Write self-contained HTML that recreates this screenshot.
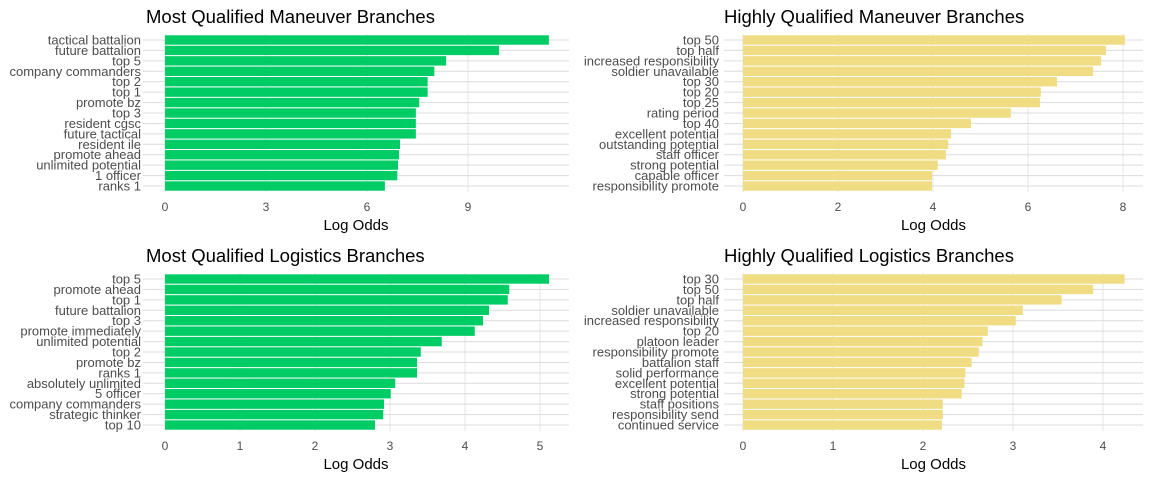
<!DOCTYPE html>
<html><head><meta charset="utf-8"><style>
body{margin:0;background:#fff;font-family:"Liberation Sans",sans-serif}
svg text{font-family:"Liberation Sans",sans-serif}
</style></head><body>
<svg id="c" width="1152" height="480" xmlns="http://www.w3.org/2000/svg"></svg>
<script>
const p1Cats=["tactical battalion","future battalion","top 5","company commanders","top 2","top 1","promote bz","top 3","resident cgsc","future tactical","resident ile","promote ahead","unlimited potential","1 officer","ranks 1"];
const p1Vals=[11.4,9.92,8.35,8.0,7.8,7.8,7.55,7.45,7.45,7.45,6.98,6.95,6.92,6.9,6.53];
const p1Ticks=[0,3,6,9];
const p2Cats=["top 50","top half","increased responsibility","soldier unavailable","top 30","top 20","top 25","rating period","top 40","excellent potential","outstanding potential","staff officer","strong potential","capable officer","responsibility promote"];
const p2Vals=[8.04,7.64,7.54,7.37,6.61,6.27,6.25,5.64,4.8,4.38,4.32,4.27,4.1,3.98,3.98];
const p2Ticks=[0,2,4,6,8];
const p3Cats=["top 5","promote ahead","top 1","future battalion","top 3","promote immediately","unlimited potential","top 2","promote bz","ranks 1","absolutely unlimited","5 officer","company commanders","strategic thinker","top 10"];
const p3Vals=[5.12,4.59,4.57,4.32,4.24,4.13,3.69,3.41,3.36,3.36,3.07,3.01,2.92,2.91,2.8];
const p3Ticks=[0,1,2,3,4,5];
const p4Cats=["top 30","top 50","top half","soldier unavailable","increased responsibility","top 20","platoon leader","responsibility promote","battalion staff","solid performance","excellent potential","strong potential","staff positions","responsibility send","continued service"];
const p4Vals=[4.24,3.89,3.54,3.11,3.03,2.72,2.66,2.62,2.54,2.47,2.46,2.43,2.22,2.22,2.21];
const p4Ticks=[0,1,2,3,4];

const svg=document.getElementById('c');
const NS="http://www.w3.org/2000/svg";
function mk(tag,attrs,parent){const e=document.createElementNS(NS,tag);for(const k in attrs)e.setAttribute(k,attrs[k]);(parent||svg).appendChild(e);return e;}

function panel(id,title,cats,vals,ticks,color,px0,unitPx,gx0,gx1,top){
  const g=mk('g',{});
  
  
  const x=v=>px0+v*unitPx;
  const step=10.43;
  const y=i=>top+i*step;
  ticks.forEach(t=>{const l=mk('line',{x1:x(t),x2:x(t),y1:top-6,y2:y(cats.length-1)+6,stroke:'#e6e6e6','stroke-width':1},g);
    });
  cats.forEach((c,i)=>{const l=mk('line',{x1:gx0,x2:gx1,y1:y(i),y2:y(i),stroke:'#dcdcdc','stroke-width':1},g);
    });
  cats.forEach((c,i)=>{
    const r=mk('rect',{x:x(0),y:y(i)-4.7,width:x(vals[i])-x(0),height:9.4,fill:color},g);
    
    
    const t=mk('text',{x:px0-24,y:y(i)+4.5,'text-anchor':'end','font-size':13,fill:'#4d4d4d'},g);
    t.textContent=c;
    
    
  });
  ticks.forEach(tv=>{const t=mk('text',{x:x(tv),y:y(cats.length-1)+25,'text-anchor':'middle','font-size':12,fill:'#4d4d4d'},g);
    t.textContent=tv;});
  const at=mk('text',{x:(gx0+gx1)/2,y:y(cats.length-1)+44,'text-anchor':'middle','font-size':15,fill:'#000'},g);
  at.textContent='Log Odds';
  const tt=mk('text',{x:px0-19,y:top-17,'font-size':18.5,fill:'#000'},g);
  tt.textContent=title;
}
panel('most-maneuver','Most Qualified Maneuver Branches',p1Cats,p1Vals,p1Ticks,'#00cc66',165,33.67,143,569,40);
panel('highly-maneuver','Highly Qualified Maneuver Branches',p2Cats,p2Vals,p2Ticks,'#f0dc82',743,47.5,724,1143,40);
panel('most-logistics','Most Qualified Logistics Branches',p3Cats,p3Vals,p3Ticks,'#00cc66',165,75,143,569,279);
panel('highly-logistics','Highly Qualified Logistics Branches',p4Cats,p4Vals,p4Ticks,'#f0dc82',743,90,724,1143,279);
</script>
</body></html>
